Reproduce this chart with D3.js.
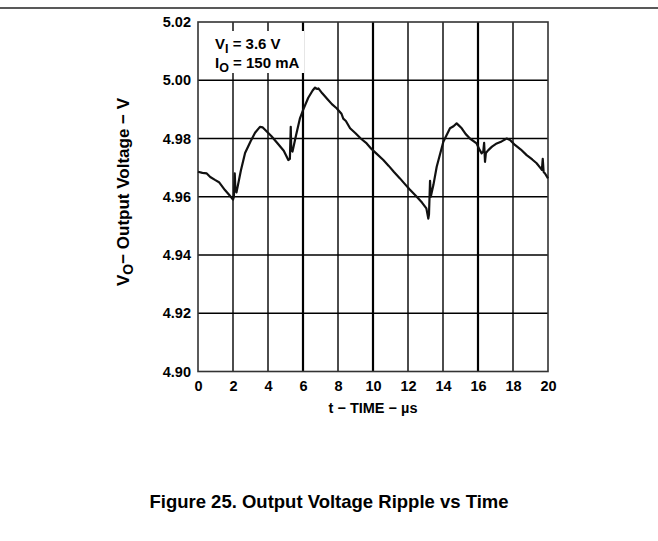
<!DOCTYPE html>
<html>
<head>
<meta charset="utf-8">
<script src="https://cdn.jsdelivr.net/npm/d3@7"></script>
<style>
  html, body { margin: 0; padding: 0; background: #fff; }
  svg text { font-family: "Liberation Sans", Arial, sans-serif; font-weight: bold; fill: #000; }
</style>
</head>
<body>
<svg id="chart" width="658" height="541"></svg>
<script>
const timeUs = [0, 0.25, 0.5, 0.7, 0.97, 1.2, 1.54, 1.8, 2.0, 2.05, 2.1, 2.14, 2.2, 2.45, 2.69, 3.0, 3.26, 3.54, 3.7, 3.83,
  4.2, 4.59, 4.9, 5.16, 5.25, 5.3, 5.33, 5.4, 5.6, 5.83, 6.02, 6.3, 6.55, 6.69, 6.8, 6.88, 7.1, 7.4, 7.65, 7.92,
  8.2, 8.3, 8.45, 8.69, 9.0, 9.3, 9.64, 9.9, 10.2, 10.59, 10.9, 11.2, 11.54, 11.8, 12.1, 12.5, 12.8, 13.05, 13.16, 13.2, 13.26,
  13.3, 13.45, 13.64, 14.02, 14.4, 14.6, 14.78, 14.9, 15.07, 15.3, 15.54, 15.92, 16.1, 16.21, 16.3, 16.35, 16.4, 16.45, 16.59, 16.8,
  17.07, 17.35, 17.64, 17.83, 18.11, 18.45, 18.78, 19.1, 19.35, 19.55, 19.65, 19.7, 19.75, 19.83, 20];
const voltage = [4.9686, 4.9682, 4.9680, 4.9668, 4.9658, 4.9650, 4.9623, 4.9605, 4.9590, 4.9600, 4.9680, 4.9620, 4.9615, 4.9690, 4.9750, 4.9790, 4.9820, 4.9840, 4.9838, 4.9830,
  4.9808, 4.9780, 4.9758, 4.9726, 4.9730, 4.9840, 4.9760, 4.9755, 4.9810, 4.9870, 4.9900, 4.9940, 4.9965, 4.9975, 4.9970, 4.9972, 4.9955, 4.9935, 4.9918, 4.9904,
  4.9885, 4.9868, 4.9860, 4.9835, 4.9818, 4.9800, 4.9783, 4.9765, 4.9748, 4.9726, 4.9706, 4.9685, 4.9663, 4.9645, 4.9625, 4.9600, 4.9580, 4.9560, 4.9525, 4.9540, 4.9655,
  4.9600, 4.9640, 4.9703, 4.9789, 4.9835, 4.9842, 4.9852, 4.9845, 4.9835, 4.9815, 4.9800, 4.9783, 4.9760, 4.9749, 4.9755, 4.9785, 4.9720, 4.9750, 4.9760, 4.9772,
  4.9783, 4.9790, 4.9800, 4.9795, 4.9778, 4.9762, 4.9743, 4.9728, 4.9715, 4.9700, 4.9692, 4.9730, 4.9685, 4.9680, 4.9663];

const xTicks = [0, 2, 4, 6, 8, 10, 12, 14, 16, 18, 20];
const yTicks = [4.90, 4.92, 4.94, 4.96, 4.98, 5.00, 5.02];
const boldGrid = [6, 10, 16];

const svg = d3.select('#chart');
const plot = { left: 198, right: 548, top: 22, bottom: 371.5 };

const x = d3.scaleLinear().domain([0, 20]).range([plot.left, plot.right]);
const y = d3.scaleLinear().domain([4.90, 5.02]).range([plot.bottom, plot.top]);

// page rule at the very top
svg.append('line')
  .attr('x1', 0).attr('x2', 658).attr('y1', 8).attr('y2', 8)
  .attr('stroke', '#222').attr('stroke-width', 1.5);

// grid
const grid = svg.append('g').attr('class', 'grid');
grid.selectAll('.vline')
  .data(xTicks.slice(1, -1))
  .join('line')
  .attr('class', 'vline')
  .attr('x1', d => x(d)).attr('x2', d => x(d))
  .attr('y1', plot.top).attr('y2', plot.bottom)
  .attr('stroke', '#000')
  .attr('stroke-width', d => boldGrid.includes(d) ? 2.2 : 1.4);
grid.selectAll('.hline')
  .data(yTicks.slice(1, -1))
  .join('line')
  .attr('class', 'hline')
  .attr('x1', plot.left).attr('x2', plot.right)
  .attr('y1', d => y(d)).attr('y2', d => y(d))
  .attr('stroke', '#000')
  .attr('stroke-width', 1.4);

// annotation box (white, hides grid behind the text)
svg.append('rect')
  .attr('x', 206).attr('y', 31).attr('width', 98).attr('height', 42)
  .attr('fill', '#fff');

// frame
svg.append('rect')
  .attr('x', plot.left).attr('y', plot.top)
  .attr('width', plot.right - plot.left).attr('height', plot.bottom - plot.top)
  .attr('fill', 'none').attr('stroke', '#333').attr('stroke-width', 1.6);

// trace
const data = timeUs.map((t, i) => [t, voltage[i]]);
svg.append('path')
  .datum(data)
  .attr('fill', 'none')
  .attr('stroke', '#111')
  .attr('stroke-width', 2.2)
  .attr('stroke-linejoin', 'round')
  .attr('d', d3.line().x(d => x(d[0])).y(d => y(d[1])));

// axes (labels only)
const xAxis = svg.append('g')
  .attr('transform', 'translate(0,' + plot.bottom + ')')
  .call(d3.axisBottom(x).tickValues(xTicks).tickSize(0).tickPadding(9).tickFormat(d3.format('d')));
const yAxis = svg.append('g')
  .attr('transform', 'translate(' + plot.left + ',0)')
  .call(d3.axisLeft(y).tickValues(yTicks).tickSize(0).tickPadding(7).tickFormat(d3.format('.2f')));
[xAxis, yAxis].forEach(g => {
  g.select('.domain').remove();
  g.selectAll('text').attr('font-size', 14.5).attr('font-family', '"Liberation Sans", Arial, sans-serif')
    .attr('font-weight', 'bold').attr('fill', '#000');
});

// axis titles
svg.append('text')
  .attr('x', (plot.left + plot.right) / 2).attr('y', 413)
  .attr('text-anchor', 'middle').attr('font-size', 14.5)
  .text('t − TIME − µs');

const yTitle = svg.append('text')
  .attr('transform', 'translate(129,192) rotate(-90)')
  .attr('text-anchor', 'middle').attr('font-size', 17);
yTitle.append('tspan').text('V');
yTitle.append('tspan').attr('font-size', 14).attr('dy', 4).text('O');
yTitle.append('tspan').attr('dy', -4).text('− Output Voltage − V');

// conditions
const note1 = svg.append('text').attr('x', 215).attr('y', 49).attr('font-size', 15);
note1.append('tspan').text('V');
note1.append('tspan').attr('font-size', 12.5).attr('dy', 4).text('I');
note1.append('tspan').attr('dy', -4).text(' = 3.6 V');
const note2 = svg.append('text').attr('x', 215).attr('y', 68).attr('font-size', 15);
note2.append('tspan').text('I');
note2.append('tspan').attr('font-size', 12.5).attr('dy', 4).text('O');
note2.append('tspan').attr('dy', -4).text(' = 150 mA');

// caption
svg.append('text')
  .attr('x', 329).attr('y', 508)
  .attr('text-anchor', 'middle').attr('font-size', 18.5)
  .text('Figure 25. Output Voltage Ripple vs Time');
</script>
</body>
</html>
